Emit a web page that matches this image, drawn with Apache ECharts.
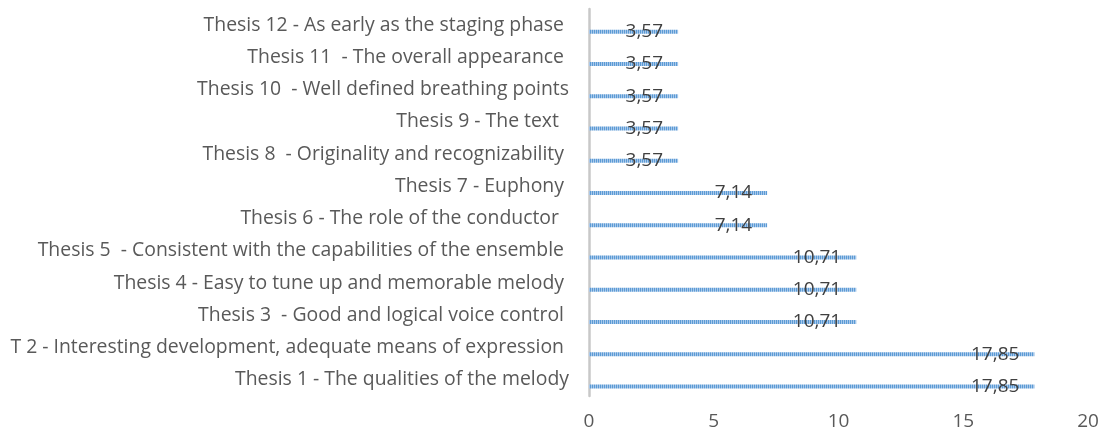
<!DOCTYPE html>
<html>
<head>
<meta charset="utf-8">
<script src="https://cdn.jsdelivr.net/npm/echarts@6/dist/echarts.min.js"></script>
<style>
  html, body { margin: 0; padding: 0; background: #ffffff; }
  #chart { width: 1102px; height: 427px; }
</style>
</head>
<body>
<div id="chart"></div>
<script>
// Theses, listed bottom to top (category axis starts at the bottom)
const theses = [
  'Thesis 1 - The qualities of the melody',
  'T 2 - Interesting development, adequate means of expression ',
  'Thesis 3  - Good and logical voice control ',
  'Thesis 4 - Easy to tune up and memorable melody ',
  'Thesis 5  - Consistent with the capabilities of the ensemble ',
  'Thesis 6 - The role of the conductor  ',
  'Thesis 7 - Euphony ',
  'Thesis 8  - Originality and recognizability ',
  'Thesis 9 - The text  ',
  'Thesis 10  - Well defined breathing points',
  'Thesis 11  - The overall appearance ',
  'Thesis 12 - As early as the staging phase '
];

// Share of respondents per thesis, %
const shares = [17.85, 17.85, 10.71, 10.71, 10.71, 7.14, 7.14, 3.57, 3.57, 3.57, 3.57, 3.57];

// Value axis ticks
const axisMin = 0;
const axisMax = 20;
const axisStep = 5;

// Fine striped fill for the bars
function stripePattern() {
  const c = document.createElement('canvas');
  c.width = 2; c.height = 1;
  const ctx = c.getContext('2d');
  ctx.fillStyle = '#5b9bd5'; ctx.fillRect(0, 0, 1, 1);
  ctx.fillStyle = '#a9c8ea'; ctx.fillRect(1, 0, 1, 1);
  return c;
}

const FONT = '"Open Sans", "Noto Sans", sans-serif';

const chart = echarts.init(document.getElementById('chart'), null, { renderer: 'canvas' });
chart.setOption({
  animation: false,
  backgroundColor: '#ffffff',
  grid: {
    left: 589, right: 14, top: 9, bottom: 31,
    containLabel: false,
    outerBoundsMode: 'none'
  },
  xAxis: {
    type: 'value',
    min: axisMin,
    max: axisMax,
    interval: axisStep,
    axisLine: { show: false },
    axisTick: { show: false },
    splitLine: { show: false },
    axisLabel: { color: '#595959', fontFamily: FONT, fontSize: 19, margin: 16 }
  },
  yAxis: {
    type: 'category',
    data: theses,
    axisLine: { show: true, lineStyle: { color: '#c8c8c8', width: 2.5 } },
    axisTick: { show: false },
    axisLabel: {
      color: '#595959', fontFamily: FONT, fontSize: 19.4, margin: 20,
      padding: [0, 0, 9, 0]
    }
  },
  series: [
    {
      // empty companion series: keeps the visible bars in the lower part of each band
      type: 'bar',
      data: shares.map(() => null),
      barWidth: 4,
      barGap: '225%',
      silent: true
    },
    {
      type: 'bar',
      data: shares,
      barWidth: 4,
      barGap: '225%',
      itemStyle: { color: { image: stripePattern(), repeat: 'repeat' } },
      label: {
        show: true,
        position: 'insideRight',
        distance: 15,
        color: '#404040',
        fontFamily: FONT,
        fontSize: 19,
        formatter: p => String(p.value.toFixed(2)).replace('.', ',')
      }
    }
  ]
});
</script>
</body>
</html>
